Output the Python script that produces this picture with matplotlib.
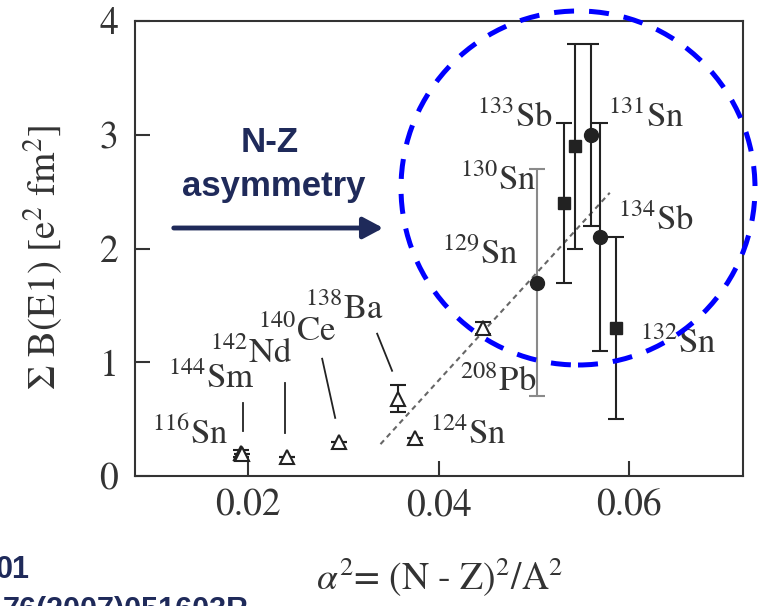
import matplotlib
matplotlib.use("Agg")
import matplotlib.pyplot as plt
from matplotlib.patches import Ellipse, FancyArrowPatch

plt.rcParams["font.family"] = ["STIXGeneral", "DejaVu Serif"]
plt.rcParams["mathtext.fontset"] = "stix"

# ---- data: alpha^2 = (N-Z)^2/A^2 and summed B(E1) strength ----
open_names = ["116Sn", "144Sm", "142Nd", "140Ce", "138Ba", "124Sn", "208Pb"]
open_alpha2 = [0.0192, 0.0193, 0.0241, 0.0295, 0.0357, 0.0375, 0.0447]
open_be1 = [0.20, 0.19, 0.17, 0.30, 0.68, 0.33, 1.30]
open_err = [0.03, 0.0, 0.0, 0.0, 0.12, 0.0, 0.05]

square_names = ["130Sn", "133Sb", "132Sn"]
square_alpha2 = [0.0532, 0.0543, 0.0587]
square_be1 = [2.4, 2.9, 1.3]
square_err = [0.7, 0.9, 0.8]

circle_names = ["131Sn", "134Sb"]
circle_alpha2 = [0.0560, 0.0570]
circle_be1 = [3.0, 2.1]
circle_err = [0.8, 1.0]

sn129_alpha2 = [0.0503]
sn129_be1 = [1.7]
sn129_err = [1.0]

trend_x = [0.0339, 0.0580]
trend_y = [0.28, 2.49]

x_ticks = [0.02, 0.04, 0.06]
x_tick_labels = ["0.02", "0.04", "0.06"]
y_ticks = [0, 1, 2, 3, 4]
y_tick_labels = ["0", "1", "2", "3", "4"]

# nucleus labels: (mass, symbol, x, y) with text baseline at y
labels = [
    ("116", "Sn", 0.00993, 0.28),
    ("144", "Sm", 0.01160, 0.775),
    ("142", "Nd", 0.01601, 0.996),
    ("140", "Ce", 0.02105, 1.189),
    ("138", "Ba", 0.02599, 1.383),
    ("124", "Sn", 0.03911, 0.282),
    ("208", "Pb", 0.04226, 0.749),
    ("132", "Sn", 0.06116, 1.084),
    ("129", "Sn", 0.04037, 1.868),
    ("130", "Sn", 0.04226, 2.511),
    ("133", "Sb", 0.04405, 3.066),
    ("131", "Sn", 0.05780, 3.066),
    ("134", "Sb", 0.05885, 2.159),
]

# leader lines from labels to their points
leaders = [
    ((0.01948, 0.643), (0.01948, 0.396)),
    ((0.02389, 0.819), (0.02389, 0.379)),
    ((0.02777, 1.031), (0.02914, 0.511)),
    ((0.03355, 1.251), (0.03512, 0.925)),
]

navy = "#1f2a5a"
ink = "#222222"

fig = plt.figure(figsize=(7.6, 6.06), dpi=100)
ax = fig.add_axes([135 / 760, 1 - 476 / 606, (743 - 135) / 760, (476 - 21) / 606])

# trend line
ax.plot(trend_x, trend_y, color="#666666", lw=1.5, linestyle=(0, (2.5, 2.0)), zorder=2)

# open triangles (stable nuclei)
ax.errorbar(open_alpha2, open_be1, yerr=open_err, fmt="^", ms=10.5,
            mfc="white", mec=ink, mew=1.5, ecolor=ink, elinewidth=1.5,
            capsize=6, capthick=1.5, zorder=3)

# 129Sn (grey error bar)
ax.errorbar(sn129_alpha2, sn129_be1, yerr=sn129_err, fmt="o", ms=10,
            mfc=ink, mec=ink, ecolor="#8a8a8a", elinewidth=1.5,
            capsize=6, capthick=1.5, zorder=3)

# filled squares and circles
ax.errorbar(square_alpha2, square_be1, yerr=square_err, fmt="s", ms=9,
            mfc=ink, mec=ink, ecolor=ink, elinewidth=1.5,
            capsize=6, capthick=1.5, zorder=4)
ax.errorbar(circle_alpha2, circle_be1, yerr=circle_err, fmt="o", ms=10,
            mfc=ink, mec=ink, ecolor=ink, elinewidth=1.5,
            capsize=6, capthick=1.5, zorder=4)

for (x0, y0), (x1, y1) in leaders:
    ax.plot([x0, x1], [y0, y1], color=ink, lw=1.3, zorder=2)

for mass, sym, x, y in labels:
    ax.text(x, y, r"$^{%s}$%s" % (mass, sym), fontsize=25, color="#333333",
            ha="left", va="baseline", zorder=5)

ax.set_xlim(0.0081, 0.072)
ax.set_ylim(0, 4)
ax.set_xticks(x_ticks)
ax.set_xticklabels(x_tick_labels)
ax.set_yticks(y_ticks)
ax.set_yticklabels(y_tick_labels)
ax.tick_params(direction="in", length=11, width=1.5, labelsize=27,
               colors="#333333", top=False, right=False)
ax.tick_params(axis="y", pad=12)
ax.tick_params(axis="x", pad=9)
for sp in ax.spines.values():
    sp.set_linewidth(1.5)
    sp.set_color("#333333")

# axis titles
fig.text(440 / 760, 1 - 590 / 606, r"$\alpha^2$= (N - Z)$^2$/A$^{2}$",
         fontsize=27, color="#333333", ha="center", va="baseline")
fig.text(43 / 760, 1 - 257 / 606, r"$\Sigma$ B(E1) [e$^2$ fm$^2$]",
         fontsize=28, color="#333333", ha="center", va="center", rotation=90)

# annotation: arrow and caption
fig.text(270 / 760, 1 - 143 / 606, "N-Z", fontsize=25, fontweight="bold",
         family="Liberation Sans", color=navy, ha="center", va="center")
fig.text(274 / 760, 1 - 186 / 606, "asymmetry", fontsize=25, fontweight="bold",
         family="Liberation Sans", color=navy, ha="center", va="center")
arrow = FancyArrowPatch((171 / 760, 1 - 228 / 606), (386 / 760, 1 - 228 / 606),
                        transform=fig.transFigure,
                        arrowstyle="-|>,head_length=0.6,head_width=0.32",
                        mutation_scale=20, lw=3.5, color=navy, zorder=6)
fig.add_artist(arrow)

# dashed circle around the neutron-rich isotopes
ring = Ellipse((578 / 760, 1 - 188 / 606), width=2 * 177 / 760, height=2 * 177 / 606,
               transform=fig.transFigure, fill=False, ec="#0000ff", lw=3.6,
               linestyle=(0, (4.0, 3.0)), zorder=7)
fig.add_artist(ring)

# reference text at the lower left
fig.text(30 / 760, 1 - 578 / 606, "01", fontsize=22, fontweight="bold",
         family="Liberation Sans", color=navy, ha="right", va="baseline")
fig.text(3 / 760, 1 - 619 / 606, "76(2007)051603R", fontsize=22, fontweight="bold",
         family="Liberation Sans", color=navy, ha="left", va="baseline")

fig.savefig("out.png", dpi=100)
